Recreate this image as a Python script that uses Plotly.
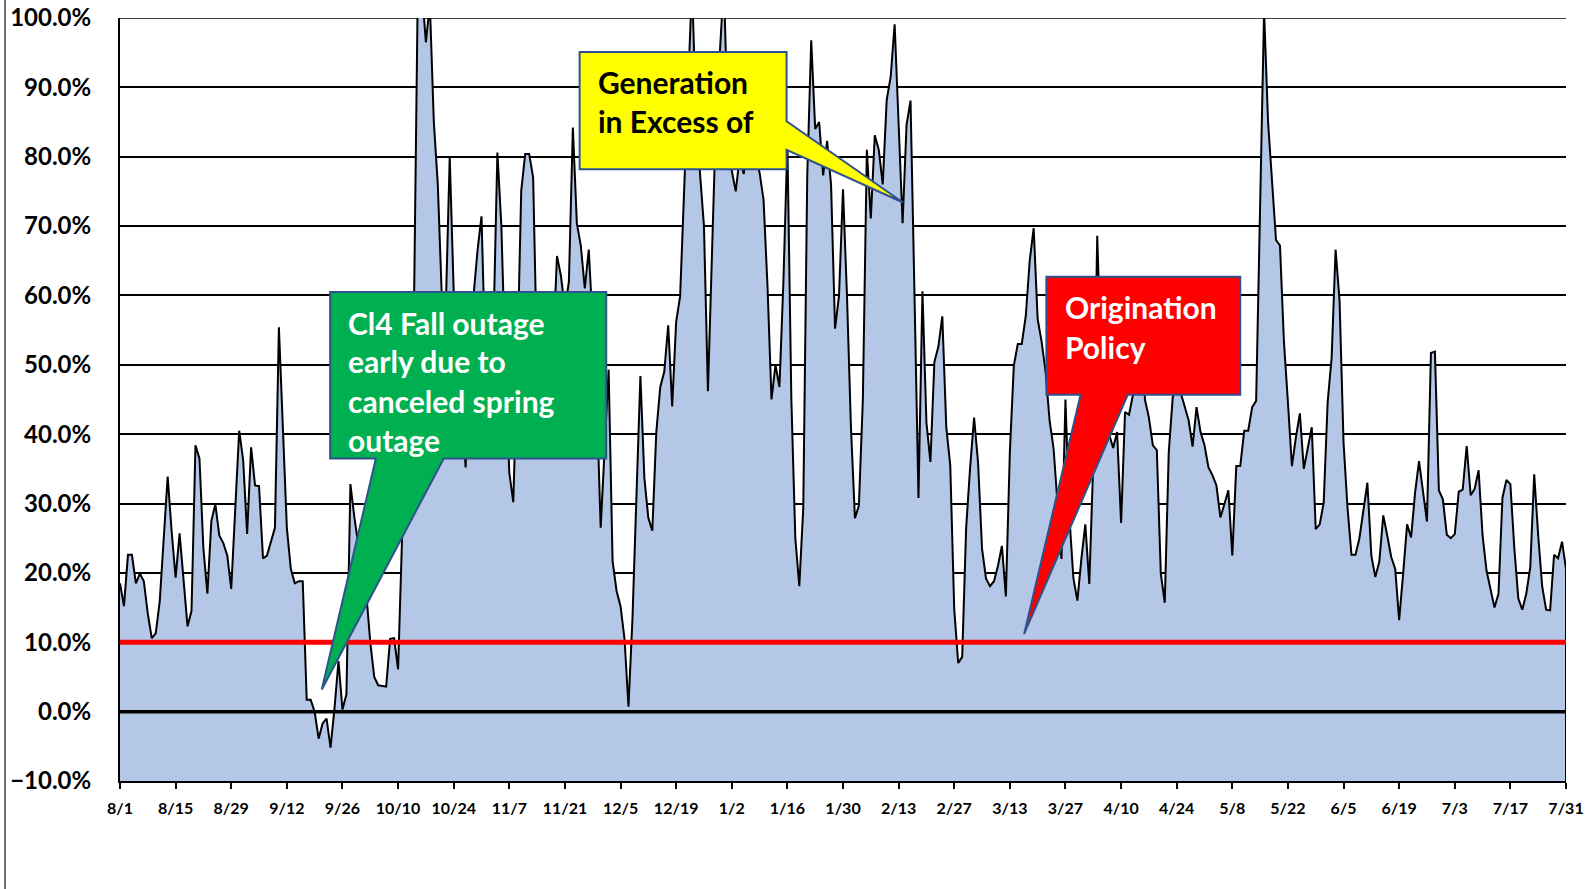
import plotly.graph_objects as go

# ---------------- data ----------------
DAYS = list(range(365))  # day index from 8/1 to 7/31

VALUES = [
    18.5, 15.2, 22.6, 22.6, 18.5, 19.9, 18.8, 14.1, 10.6, 11.3,
    15.9, 25.7, 33.9, 26.0, 19.3, 25.7, 18.5, 12.3, 14.5, 38.4,
    36.5, 23.5, 17.0, 27.5, 29.9, 25.4, 24.3, 22.5, 17.7, 30.0,
    40.5, 36.3, 25.6, 38.1, 32.6, 32.5, 22.1, 22.5, 24.6, 26.5,
    55.4, 40.0, 26.5, 20.6, 18.5, 18.8, 18.8, 1.7, 1.7, 0.0,
    -3.9, -1.7, -1.0, -5.2, 0.5, 7.3, 0.3, 2.5, 32.8, 28.0,
    24.0, 21.0, 17.0, 10.0, 5.0, 3.8, 3.7, 3.6, 10.5, 10.6,
    6.1, 25.0, 40.0, 50.0, 58.0, 106.0, 104.0, 96.5, 102.0, 85.0,
    76.0, 60.0, 58.0, 80.0, 60.6, 55.0, 45.0, 35.2, 50.0, 60.0,
    66.5, 71.4, 50.0, 40.0, 55.0, 80.6, 70.0, 50.0, 34.4, 30.2,
    50.0, 75.1, 80.4, 80.4, 77.0, 50.0, 45.0, 48.0, 55.0, 52.0,
    65.7, 62.8, 58.0, 62.0, 84.2, 70.4, 67.2, 61.0, 66.6, 55.0,
    45.0, 26.5, 38.0, 49.3, 21.7, 17.4, 15.2, 10.5, 0.7, 13.4,
    31.0, 48.4, 33.7, 27.9, 26.1, 40.3, 46.8, 49.0, 55.7, 44.0,
    56.2, 59.9, 75.0, 90.0, 105.0, 85.3, 78.0, 70.0, 46.2, 65.0,
    85.0, 95.0, 105.0, 85.0, 78.0, 75.0, 80.0, 77.5, 82.0, 85.0,
    80.0, 77.7, 73.8, 61.3, 45.0, 50.0, 46.8, 62.0, 82.0, 45.0,
    25.0, 18.1, 29.4, 77.3, 96.8, 84.0, 85.0, 77.3, 82.3, 75.9,
    55.2, 60.0, 75.3, 60.0, 41.0, 27.9, 29.7, 45.0, 81.0, 71.1,
    83.1, 81.0, 76.0, 88.2, 91.5, 99.1, 85.7, 70.4, 84.6, 88.1,
    60.0, 30.8, 60.6, 41.7, 36.0, 50.4, 52.6, 57.0, 41.0, 35.5,
    14.8, 7.0, 7.9, 26.5, 35.2, 42.4, 35.9, 23.5, 19.2, 18.1,
    18.8, 21.0, 23.9, 16.6, 37.4, 49.9, 53.0, 53.0, 57.0, 65.0,
    69.7, 56.6, 53.3, 49.0, 42.0, 38.0, 30.0, 22.0, 45.0, 28.0,
    19.2, 16.0, 22.0, 27.0, 18.4, 36.0, 68.6, 50.0, 45.0, 40.0,
    38.0, 40.3, 27.2, 43.2, 42.8, 45.7, 55.0, 62.8, 45.0, 42.4,
    38.4, 37.7, 19.9, 15.7, 37.4, 45.3, 48.0, 46.0, 44.0, 42.0,
    38.2, 43.9, 40.3, 38.4, 35.2, 34.1, 32.6, 28.0, 29.9, 31.9,
    22.5, 35.4, 35.4, 40.5, 40.5, 43.9, 44.8, 72.0, 101.0, 85.0,
    76.0, 68.0, 67.2, 53.3, 44.6, 35.4, 39.5, 43.0, 35.0, 38.0,
    41.0, 26.3, 27.0, 30.1, 44.6, 51.0, 66.6, 59.2, 38.8, 29.4,
    22.6, 22.6, 25.0, 29.0, 33.0, 22.5, 19.4, 21.6, 28.3, 25.4,
    22.3, 20.6, 13.2, 19.9, 27.0, 25.1, 31.5, 36.1, 31.9, 27.4,
    51.7, 51.9, 31.9, 30.6, 25.5, 25.0, 25.6, 31.7, 32.0, 38.3,
    31.2, 32.1, 34.8, 25.4, 20.3, 17.4, 15.0, 17.0, 30.8, 33.4,
    32.8, 23.5, 16.3, 14.7, 17.0, 20.8, 34.2, 25.4, 18.1, 14.7,
    14.6, 22.6, 22.1, 24.5, 20.6,
]

TICK_DAYS = list(range(0, 365, 14))
TICK_LABELS = ["8/1", "8/15", "8/29", "9/12", "9/26", "10/10", "10/24", "11/7",
               "11/21", "12/5", "12/19", "1/2", "1/16", "1/30", "2/13", "2/27",
               "3/13", "3/27", "4/10", "4/24", "5/8", "5/22", "6/5", "6/19",
               "7/3", "7/17", "7/31"]

POLICY_LEVEL = 10.0
Y_MIN, Y_MAX = -10.0, 100.0

# callouts: polygon in (day, %) and text lines
GREEN_BOX = dict(x0=52.9, x1=122.4, y0=36.5, y1=60.5, base0=64.4, base1=81.5, tip=(50.8, 3.2))
GREEN_TEXT = ["Cl4 Fall outage", "early due to", "canceled spring", "outage"]
GREEN_TEXT_POS = (57.0, [56.1, 50.5, 44.8, 39.2])

YELLOW_BOX = dict(x0=115.7, x1=167.8, y0=78.2, y1=95.1, base0=85.1, base1=81.0, tip=(197.1, 73.4))
YELLOW_TEXT = ["Generation", "in Excess of"]
YELLOW_TEXT_POS = (119.8, [90.8, 85.2])

RED_BOX = dict(x0=233.2, x1=282.0, y0=45.7, y1=62.7, base0=241.8, base1=253.7, tip=(227.6, 11.2))
RED_TEXT = ["Origination", "Policy"]
RED_TEXT_POS = (237.3, [58.3, 52.6])

FONT = "Lato"
BORDER = "#2F528F"

fig = go.Figure()

# baseline for area fill (bottom of axis)
fig.add_trace(go.Scatter(x=DAYS, y=[Y_MIN] * len(DAYS), mode="lines",
                         line=dict(width=0), hoverinfo="skip", showlegend=False))
fig.add_trace(go.Scatter(x=DAYS, y=VALUES, mode="lines", fill="tonexty",
                         fillcolor="#B4C7E7", line=dict(color="black", width=2),
                         showlegend=False))
# right edge of the area outline
fig.add_trace(go.Scatter(x=[DAYS[-1], DAYS[-1]], y=[Y_MIN, VALUES[-1]], mode="lines",
                         line=dict(color="black", width=2), showlegend=False, hoverinfo="skip"))
# 10% policy line
fig.add_trace(go.Scatter(x=[DAYS[0], DAYS[-1]], y=[POLICY_LEVEL, POLICY_LEVEL], mode="lines",
                         line=dict(color="#FF0000", width=5), showlegend=False))
# zero line
fig.add_trace(go.Scatter(x=[DAYS[0], DAYS[-1]], y=[0, 0], mode="lines",
                         line=dict(color="black", width=3.5), showlegend=False))


def callout_bottom(b):
    return (f"M {b['x0']},{b['y1']} L {b['x1']},{b['y1']} L {b['x1']},{b['y0']} "
            f"L {b['base1']},{b['y0']} L {b['tip'][0]},{b['tip'][1]} "
            f"L {b['base0']},{b['y0']} L {b['x0']},{b['y0']} Z")


def callout_right(b):
    return (f"M {b['x0']},{b['y1']} L {b['x1']},{b['y1']} L {b['x1']},{b['base0']} "
            f"L {b['tip'][0]},{b['tip'][1]} L {b['x1']},{b['base1']} "
            f"L {b['x1']},{b['y0']} L {b['x0']},{b['y0']} Z")


W, H = 1591, 889
ML, MR, MT, MB = 120, 25, 18, 108
PLOT_W = W - ML - MR

shapes = [
    # top gridline at the axis maximum
    dict(type="line", xref="paper", yref="y", x0=0, x1=1, y0=Y_MAX, y1=Y_MAX,
         line=dict(color="black", width=1.5), layer="below"),
    dict(type="path", path=callout_bottom(GREEN_BOX), xref="x", yref="y",
         fillcolor="#00B050", line=dict(color=BORDER, width=2), layer="above"),
    dict(type="path", path=callout_right(YELLOW_BOX), xref="x", yref="y",
         fillcolor="#FFFF00", line=dict(color=BORDER, width=2), layer="above"),
    dict(type="path", path=callout_bottom(RED_BOX), xref="x", yref="y",
         fillcolor="#FF0000", line=dict(color=BORDER, width=2), layer="above"),
    # chart-area left border
    dict(type="line", xref="paper", yref="paper", x0=(5 - ML) / PLOT_W, x1=(5 - ML) / PLOT_W,
         y0=-0.2, y1=1.1, line=dict(color="#404040", width=1.5)),
]

annotations = []
for texts, pos, color in [(GREEN_TEXT, GREEN_TEXT_POS, "white"),
                          (YELLOW_TEXT, YELLOW_TEXT_POS, "black"),
                          (RED_TEXT, RED_TEXT_POS, "white")]:
    for t, yv in zip(texts, pos[1]):
        annotations.append(dict(x=pos[0], y=yv, xref="x", yref="y", text=t,
                                showarrow=False, xanchor="left", yanchor="middle",
                                font=dict(family=FONT, size=30, color=color, weight="bold")))

fig.update_layout(
    width=W, height=H,
    margin=dict(l=ML, r=MR, t=MT, b=MB),
    paper_bgcolor="white", plot_bgcolor="white",
    shapes=shapes, annotations=annotations,
    showlegend=False,
)
fig.update_xaxes(range=[DAYS[0], DAYS[-1]], tickvals=TICK_DAYS, ticktext=TICK_LABELS,
                 automargin=False, ticklabeloverflow="allow",
                 showgrid=False, zeroline=False, showline=True, linecolor="black", linewidth=2,
                 ticks="outside", ticklen=6, tickwidth=1.5, tickcolor="black",
                 ticklabelstandoff=6,
                 tickfont=dict(family=FONT, size=16, color="black", weight="bold"))
fig.update_yaxes(range=[Y_MIN, Y_MAX], dtick=10, tick0=0, tickformat=".1f", ticksuffix="%",
                 automargin=False, ticklabeloverflow="allow",
                 showgrid=True, gridcolor="black", gridwidth=1.5, zeroline=False,
                 showline=True, linecolor="black", linewidth=2,
                 ticks="outside", ticklen=0, ticklabelstandoff=22,
                 tickfont=dict(family=FONT, size=24, color="black", weight="bold"))

# remove the default page margin so the figure sits at the window origin
fig.write_html("out.html", config={"displayModeBar": False},
               post_script="document.body.style.margin='0';")
